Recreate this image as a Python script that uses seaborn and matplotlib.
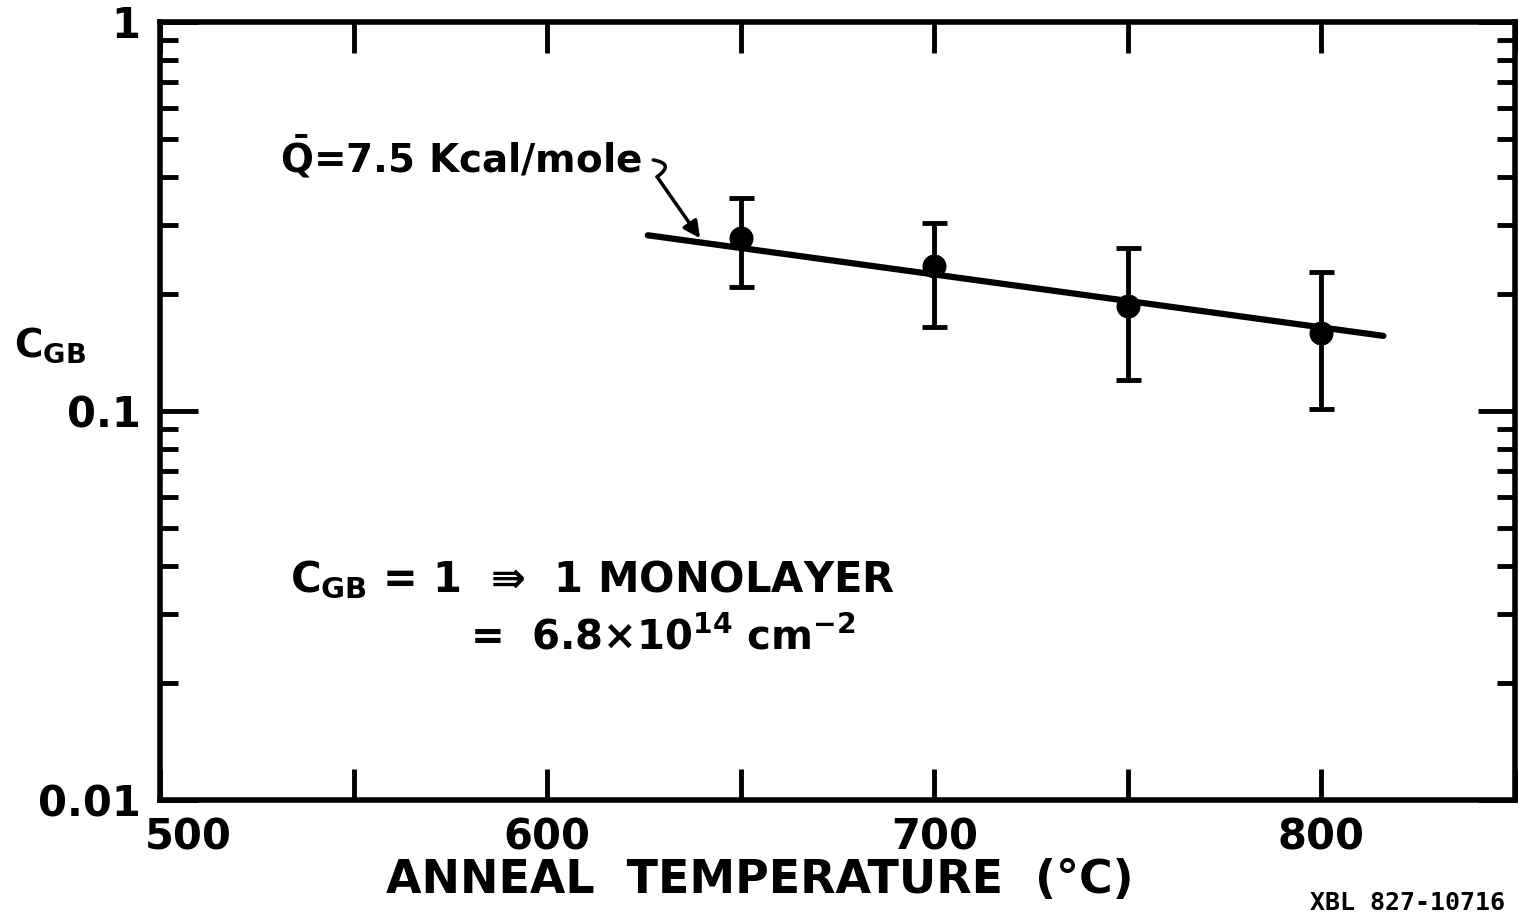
import numpy as np
import pandas as pd
import matplotlib
matplotlib.use("Agg")
import matplotlib.pyplot as plt
import matplotlib.ticker as mticker
from matplotlib.transforms import ScaledTranslation
import seaborn as sns

# ---- data ----
temperature = [650, 700, 750, 800]
c_gb = [0.278, 0.236, 0.186, 0.159]
err_upper = [0.353, 0.304, 0.262, 0.228]
err_lower = [0.208, 0.164, 0.120, 0.101]
fit_temperature = [626, 816]
fit_c_gb = [0.283, 0.156]

x_ticks = [500, 550, 600, 650, 700, 750, 800, 850]
x_tick_labels = ["500", "", "600", "", "700", "", "800", ""]
y_ticks = [0.01, 0.1, 1]
y_tick_labels = ["0.01", "0.1", "1"]

sns.set_style("ticks")
plt.rcParams['font.family'] = ['DejaVu Sans']
plt.rcParams['font.weight'] = 'bold'
plt.rcParams['mathtext.default'] = 'bf'
plt.rcParams['text.color'] = 'black'
plt.rcParams['axes.labelcolor'] = 'black'
plt.rcParams['axes.labelweight'] = 'bold'
plt.rcParams['xtick.color'] = 'black'
plt.rcParams['ytick.color'] = 'black'

fig = plt.figure(figsize=(15.19, 9.17), dpi=100)
ax = fig.add_axes([160/1519, 117/917, 1355/1519, 778/917])
ax.set_yscale("log")

data = pd.DataFrame({"temperature": temperature, "c_gb": c_gb})
fit = pd.DataFrame({"temperature": fit_temperature, "c_gb": fit_c_gb})

sns.lineplot(data=fit, x="temperature", y="c_gb", ax=ax, color="black",
             lw=4.5, solid_capstyle="round")
yerr = [np.array(c_gb) - np.array(err_lower), np.array(err_upper) - np.array(c_gb)]
ax.errorbar(temperature, c_gb, yerr=yerr, fmt="none", ecolor="black",
            elinewidth=3.5, capsize=9, capthick=3.5, zorder=4)
sns.scatterplot(data=data, x="temperature", y="c_gb", ax=ax, color="black",
                s=16**2, edgecolor="black", zorder=5)

ax.set_xlim(500, 850)
ax.set_ylim(0.01, 1)
ax.set_xticks(x_ticks)
ax.set_xticklabels(x_tick_labels)
ax.set_yticks(y_ticks)
ax.set_yticklabels(y_tick_labels)
ax.yaxis.set_minor_locator(mticker.LogLocator(base=10, subs=np.arange(2, 10)))
ax.yaxis.set_minor_formatter(mticker.NullFormatter())
ax.xaxis.set_minor_locator(mticker.NullLocator())

ax.tick_params(axis='both', which='both', direction='in', top=True, right=True,
               color='black', width=3.5)
ax.tick_params(axis='x', which='major', length=22, pad=12, labelsize=30)
ax.tick_params(axis='y', which='major', length=27, pad=14, labelsize=30)
ax.tick_params(axis='y', which='minor', length=13)
for s in ax.spines.values():
    s.set_linewidth(4)
    s.set_color('black')

lbl = ax.get_xticklabels()[0]
lbl.set_transform(lbl.get_transform() + ScaledTranslation(0.28, 0, fig.dpi_scale_trans))

ax.set_xlabel("ANNEAL  TEMPERATURE  (°C)", fontsize=33, va='center')
ax.xaxis.set_label_coords(0.443, -0.103)
ax.set_ylabel(r"C$_{GB}$", rotation=0, fontsize=28, va='center', ha='center')
ax.yaxis.set_label_coords(-0.081, 0.585)

ax.text(531, 0.41, r"$\bar{Q}$=7.5 Kcal/mole", fontsize=28, ha='left', va='baseline')
# squiggle + leader arrow
ax.annotate("", xy=(628.4, 0.40), xytext=(627.4, 0.442),
            arrowprops=dict(arrowstyle='-', color='black', lw=2.5,
                            shrinkA=0, shrinkB=0,
                            connectionstyle="arc3,rad=-1.2"))
ax.annotate("", xy=(639.5, 0.278), xytext=(628.4, 0.40),
            arrowprops=dict(arrowstyle='-|>', color='black', lw=2.5,
                            mutation_scale=25, shrinkA=0, shrinkB=0))

ax.text(0.096, 0.267, "C$_{GB}$ = 1  \u21DB  1 MONOLAYER", transform=ax.transAxes,
        fontsize=30, va='baseline', ha='left')
ax.text(0.229, 0.193, r"=  6.8$\times$10$^{14}$ cm$^{-2}$", transform=ax.transAxes,
        fontsize=29, va='baseline', ha='left')

fig.text(0.991, 0.008, "XBL 827-10716", ha='right', va='baseline', fontsize=18,
         family='DejaVu Sans Mono', weight='bold')

fig.savefig("out.png", dpi=100, facecolor='white')
